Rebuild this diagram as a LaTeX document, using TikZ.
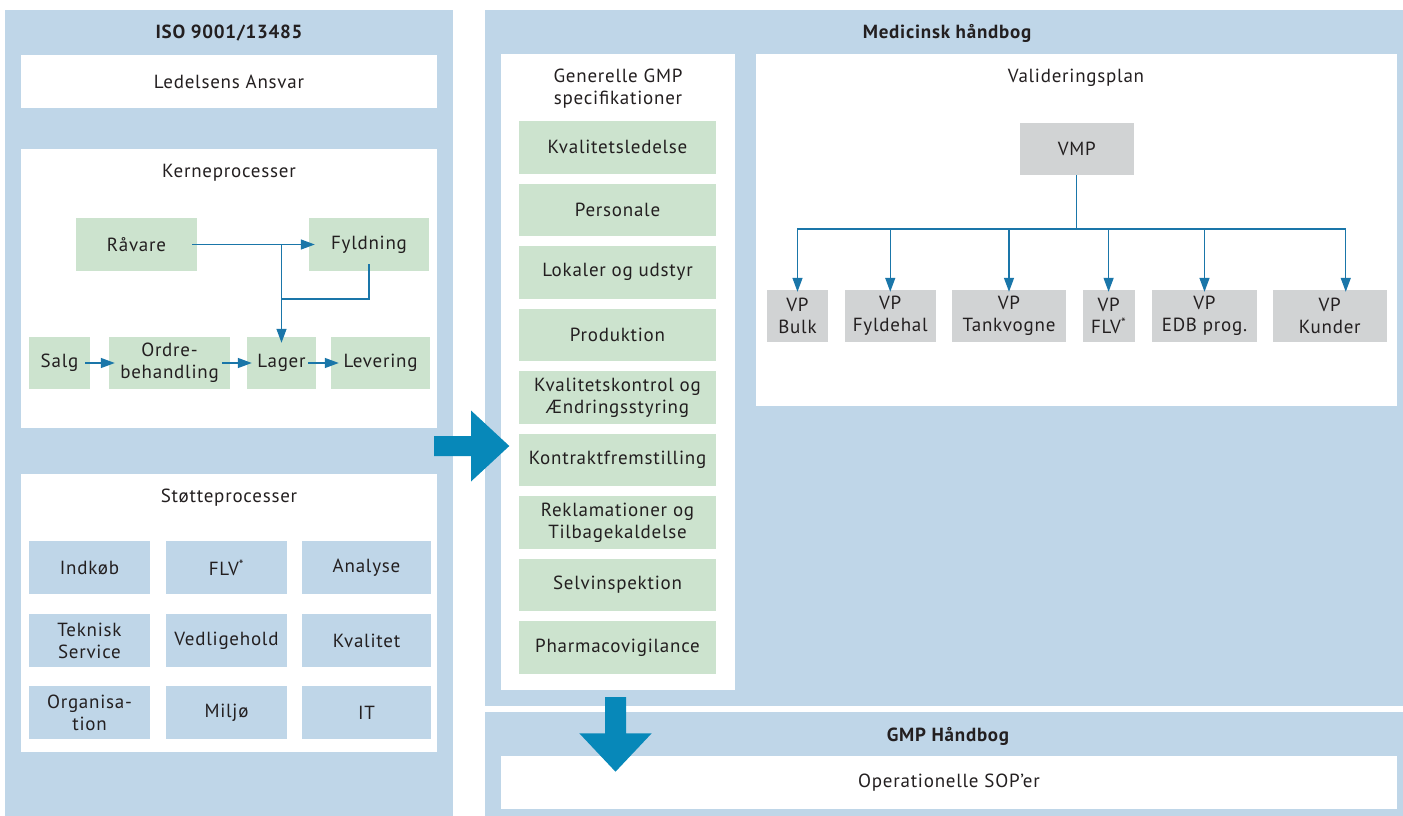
\documentclass[tikz,border=0pt]{standalone}
\usepackage{fontspec}
\setmainfont{PT Sans}[LetterSpace=4]
\usetikzlibrary{arrows.meta}
\definecolor{panelblue}{HTML}{BFD6E8}
\definecolor{gmpgreen}{HTML}{CCE3CE}
\definecolor{vpgray}{HTML}{D1D3D4}
\definecolor{linkblue}{HTML}{1A76A9}
\definecolor{bigblue}{HTML}{0788B9}
\definecolor{txt}{HTML}{231F20}
\tikzset{
  lbl/.style={text=txt, font=\fontsize{19}{22}\selectfont, align=center, inner sep=0pt},
  ttl/.style={lbl, font=\fontsize{19}{22}\selectfont\bfseries},
  boxbase/.style={lbl, minimum height=53pt, inner sep=0pt},
  wbox/.style={boxbase, fill=white},
  gbox/.style={boxbase, fill=gmpgreen},
  bbox/.style={boxbase, fill=panelblue},
  vbox/.style={boxbase, fill=vpgray, minimum height=52pt},
  link/.style={draw=linkblue, line width=1.3pt},
  conn/.style={link, -{Triangle[length=14pt,width=10pt]}},
  bigarrow/.style={fill=bigblue}
}
\begin{document}
\begin{tikzpicture}[x=1pt,y=-1pt]
\useasboundingbox (0,0) rectangle (1403,816);
% panels
\fill[panelblue] (5,10) rectangle (453,816);
\fill[panelblue] (485,10) rectangle (1403,706);
\fill[panelblue] (485,712) rectangle (1403,816);
% white containers
\fill[white] (21,149) rectangle (437,428);
\fill[white] (21,474) rectangle (437,752);
\fill[white] (501,54) rectangle (735,690);
\fill[white] (756,54) rectangle (1397,406);
% titles
\node[ttl] (isot) at (229,33) {ISO 9001/13485};
\node[ttl] (medt) at (947,33) {Medicinsk håndbog};
\node[ttl] (gmpt) at (948,736) {GMP Håndbog};
\node[wbox, minimum width=416pt] (led) at (229,81.5) {Ledelsens Ansvar};
\node[wbox, minimum width=896pt] (sop) at (949,782.5) {Operationelle SOP’er};
\node[lbl] (kerne) at (229,173) {Kerneprocesser};
\node[lbl] (stotte) at (229,498) {Støtteprocesser};
\node[lbl] (gen) at (618,89) {Generelle GMP\\specifikationer};
\node[lbl] (valt) at (1076,78) {Valideringsplan};
% kerneprocesser
\node[gbox, minimum width=121pt] (raa) at (136.5,244.5) {Råvare};
\node[gbox, minimum width=120pt] (fyl) at (369,244.5) {Fyldning};
\node[gbox, minimum width=61pt, minimum height=52pt] (salg) at (59.5,363) {Salg};
\node[gbox, minimum width=121pt, minimum height=52pt] (ordre) at (169.5,363) {Ordre-\\behandling};
\node[gbox, minimum width=69pt, minimum height=52pt] (lager) at (281.5,363) {Lager};
\node[gbox, minimum width=99pt, minimum height=52pt] (lev) at (380.5,363) {Levering};
\coordinate (j1) at (281.5,244.5);
\coordinate (j2) at (281.5,299);
\draw[conn] ([xshift=-5pt]raa.east) -- ([xshift=6pt]fyl.west);
\draw[link] ([yshift=7pt]fyl.south) |- (j2);
\draw[conn] (j1) -- ([yshift=-6pt]lager.north);
\draw[conn] ([xshift=-5pt]salg.east) -- ([xshift=6pt]ordre.west);
\draw[conn] ([xshift=-8pt]ordre.east) -- ([xshift=5pt]lager.west);
\draw[conn] ([xshift=-8pt]lager.east) -- ([xshift=8pt]lev.west);
% stotteprocesser
\node[bbox, minimum width=121pt] (s11) at (89.5,567.5) {Indkøb};
\node[bbox, minimum width=121pt] (s12) at (226.5,567.5) {FLV\textsuperscript{*}};
\node[bbox, minimum width=129pt] (s13) at (366.5,567.5) {Analyse};
\node[bbox, minimum width=121pt] (s21) at (89.5,640.5) {Teknisk\\Service};
\node[bbox, minimum width=121pt] (s22) at (226.5,640.5) {Vedligehold};
\node[bbox, minimum width=129pt] (s23) at (366.5,640.5) {Kvalitet};
\node[bbox, minimum width=121pt] (s31) at (89.5,712.5) {Organisa-\\tion};
\node[bbox, minimum width=121pt] (s32) at (226.5,712.5) {Miljø};
\node[bbox, minimum width=129pt] (s33) at (366.5,712.5) {IT};
% GMP specs
\foreach \t [count=\i from 0] in {Kvalitetsledelse,Personale,Lokaler og udstyr,Produktion,{Kvalitetskontrol og\\Ændringsstyring},Kontraktfremstilling,{Reklamationer og\\Tilbagekaldelse},Selvinspektion,Pharmacovigilance}{
  \node[gbox, minimum width=197pt, minimum height=52.6pt] (g\i) at (617.5,147.3+62.5*\i) {\t};
}
% validering
\node[vbox, minimum width=113.5pt] (vmp) at (1076.75,149) {VMP};
\coordinate (bus) at (1076.75,229);
\node[vbox, minimum width=61pt] (vp1) at (797.5,316) {VP\\Bulk};
\node[vbox, minimum width=90.5pt] (vp2) at (890.25,316) {VP\\Fyldehal};
\node[vbox, minimum width=114pt] (vp3) at (1009,316) {VP\\Tankvogne};
\node[vbox, minimum width=52pt] (vp4) at (1108.6,316) {VP\\FLV\textsuperscript{*}};
\node[vbox, minimum width=105pt] (vp5) at (1204.5,316) {VP\\EDB prog.};
\node[vbox, minimum width=113.5pt] (vp6) at (1329.75,316) {VP\\Kunder};
\draw[link] (vmp.south) -- (bus);
\foreach \v in {vp1,vp2,vp3,vp4,vp5}{
  \draw[conn] (bus) -| ([yshift=-2pt]\v.north);
}
\draw[conn] (bus) -| ([xshift=16pt,yshift=-2pt]vp6.north);
% big arrows
\fill[bigarrow] (434,436) -- (471,436) -- (471,410.5) -- (509.3,446) -- (471,481.5) -- (471,456) -- (434,456) -- cycle;
\fill[bigarrow] (605,697) -- (626,697) -- (626,733.3) -- (651.7,733.3) -- (615.5,771.7) -- (579.3,733.3) -- (605,733.3) -- cycle;
\end{tikzpicture}
\end{document}
